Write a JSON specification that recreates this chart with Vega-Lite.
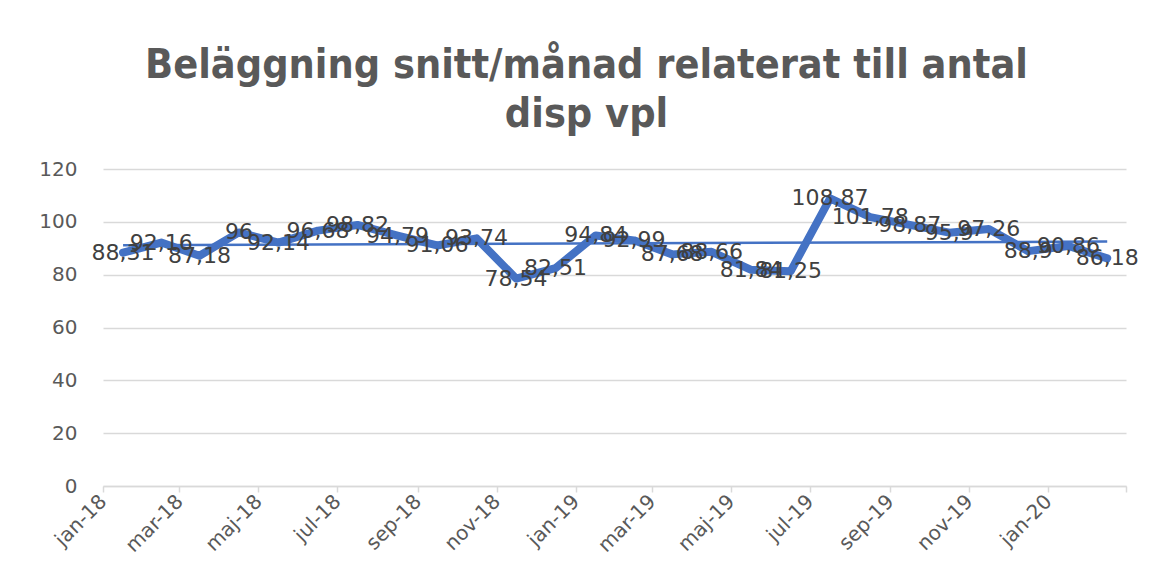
{
  "$schema": "https://vega.github.io/schema/vega-lite/v6.json",
  "autosize": "none",
  "width": 1023,
  "height": 317,
  "padding": {"left": 103, "top": 169, "right": 24, "bottom": 94},
  "background": "white",
  "title": {
    "text": ["Beläggning snitt/månad relaterat till antal", "disp vpl"],
    "font": "Liberation Sans Narrow, DejaVu Sans Condensed, Liberation Sans",
    "fontSize": 41,
    "fontWeight": "bold",
    "color": "#595959",
    "lineHeight": 49,
    "anchor": "middle",
    "dx": -28,
    "offset": 23
  },
  "config": {
    "view": {"stroke": null},
    "locale": {"number": {"decimal": ",", "thousands": " ", "grouping": [3], "currency": ["", " kr"]}}
  },
  "data": {
    "values": [
      {"month": "2018-01-01", "value": 88.31},
      {"month": "2018-02-01", "value": 92.16},
      {"month": "2018-03-01", "value": 87.18},
      {"month": "2018-04-01", "value": 96},
      {"month": "2018-05-01", "value": 92.14},
      {"month": "2018-06-01", "value": 96.68},
      {"month": "2018-07-01", "value": 98.82},
      {"month": "2018-08-01", "value": 94.79},
      {"month": "2018-09-01", "value": 91.06},
      {"month": "2018-10-01", "value": 93.74},
      {"month": "2018-11-01", "value": 78.54},
      {"month": "2018-12-01", "value": 82.51},
      {"month": "2019-01-01", "value": 94.84},
      {"month": "2019-02-01", "value": 92.99},
      {"month": "2019-03-01", "value": 87.68},
      {"month": "2019-04-01", "value": 88.66},
      {"month": "2019-05-01", "value": 81.84},
      {"month": "2019-06-01", "value": 81.25},
      {"month": "2019-07-01", "value": 108.87},
      {"month": "2019-08-01", "value": 101.78},
      {"month": "2019-09-01", "value": 98.87},
      {"month": "2019-10-01", "value": 95.9},
      {"month": "2019-11-01", "value": 97.26},
      {"month": "2019-12-01", "value": 88.9},
      {"month": "2020-01-01", "value": 90.86},
      {"month": "2020-02-01", "value": 86.18}
    ],
    "format": {"parse": {"month": "date"}}
  },
  "encoding": {
    "x": {
      "field": "month",
      "timeUnit": "utcyearmonth",
      "type": "temporal",
      "bandPosition": 0.5,
      "title": null,
      "scale": {"domain": [{"year": 2018, "month": 1, "date": 1, "utc": true}, {"year": 2020, "month": 3, "date": 1, "utc": true}]},
      "axis": {
        "values": [
          {"year": 2018, "month": 1, "date": 1, "utc": true},
          {"year": 2018, "month": 3, "date": 1, "utc": true},
          {"year": 2018, "month": 5, "date": 1, "utc": true},
          {"year": 2018, "month": 7, "date": 1, "utc": true},
          {"year": 2018, "month": 9, "date": 1, "utc": true},
          {"year": 2018, "month": 11, "date": 1, "utc": true},
          {"year": 2019, "month": 1, "date": 1, "utc": true},
          {"year": 2019, "month": 3, "date": 1, "utc": true},
          {"year": 2019, "month": 5, "date": 1, "utc": true},
          {"year": 2019, "month": 7, "date": 1, "utc": true},
          {"year": 2019, "month": 9, "date": 1, "utc": true},
          {"year": 2019, "month": 11, "date": 1, "utc": true},
          {"year": 2020, "month": 1, "date": 1, "utc": true},
          {"year": 2020, "month": 3, "date": 1, "utc": true}
        ],
        "labelExpr": "(utcyear(datum.value) == 2020 && utcmonth(datum.value) == 2) ? '' : ['jan','feb','mar','apr','maj','jun','jul','aug','sep','okt','nov','dec'][utcmonth(datum.value)] + '-' + utcFormat(datum.value, '%y')",
        "labelAngle": -45,
        "labelAlign": "right",
        "labelBaseline": "middle",
        "labelFont": "DejaVu Sans",
        "labelFontSize": 20,
        "labelColor": "#595959",
        "labelPadding": 6,
        "labelOverlap": false,
        "labelBound": false,
        "labelFlush": false,
        "grid": false,
        "domainColor": "#d9d9d9",
        "domainWidth": 1.5,
        "tickColor": "#d9d9d9",
        "tickWidth": 1.5,
        "tickSize": 6
      }
    },
    "y": {
      "field": "value",
      "type": "quantitative",
      "title": null,
      "scale": {"domain": [0, 120], "nice": false, "zero": true},
      "axis": {
        "values": [0, 20, 40, 60, 80, 100, 120],
        "labelFont": "DejaVu Sans",
        "labelFontSize": 20,
        "labelColor": "#595959",
        "labelPadding": 26,
        "ticks": false,
        "domain": false,
        "gridColor": "#d9d9d9",
        "gridWidth": 1.5
      }
    }
  },
  "layer": [
    {
      "mark": {"type": "line", "color": "#4472C4", "strokeWidth": 8, "strokeJoin": "round", "strokeCap": "round"}
    },
    {
      "transform": [{"regression": "value", "on": "month"}],
      "mark": {"type": "line", "color": "#4472C4", "strokeWidth": 2.5}
    },
    {
      "mark": {"type": "text", "font": "DejaVu Sans", "fontSize": 22, "color": "#404040", "align": "center", "baseline": "middle"},
      "encoding": {"text": {"field": "value", "type": "quantitative", "format": "~g"}}
    }
  ]
}
